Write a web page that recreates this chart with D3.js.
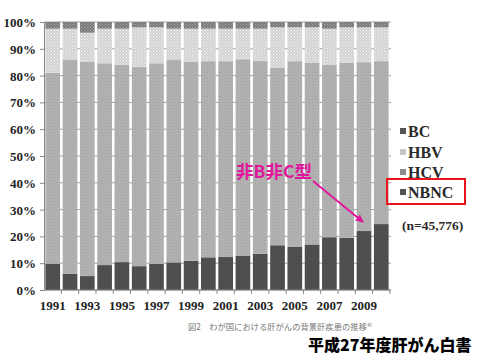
<!DOCTYPE html>
<html><head><meta charset="utf-8">
<script src="https://cdn.jsdelivr.net/npm/d3@7"></script>
<style>body{margin:0;background:#fff}svg{display:block}</style>
</head><body>
<svg id="c" width="480" height="360"></svg>
<script>
const years = [1991,1992,1993,1994,1995,1996,1997,1998,1999,2000,2001,2002,2003,2004,2005,2006,2007,2008,2009,2010];
const nbnc = [9.8,6.0,5.2,9.3,10.4,8.9,9.7,10.3,10.9,12.2,12.3,12.7,13.5,16.7,16.2,17.0,19.7,19.5,22.0,24.6];
const hcv  = [71.2,79.8,79.9,75.3,73.6,74.4,74.9,75.5,74.2,73.2,73.1,73.4,72.1,66.3,69.2,67.8,64.3,65.3,63.0,60.8];
const hbv  = [16.5,11.7,10.9,12.9,13.5,14.7,13.4,11.7,12.4,12.1,12.1,11.4,11.9,15.0,12.6,13.2,13.5,13.2,13.0,12.6];
const bc   = [2.5,2.5,4.0,2.5,2.5,2.0,2.0,2.5,2.5,2.5,2.5,2.5,2.5,2.0,2.0,2.0,2.5,2.0,2.0,2.0];
const seriesNames = ["NBNC","HCV","HBV","BC"];
const legendOrder = ["BC","HBV","HCV","NBNC"];
const yTicks = [0,10,20,30,40,50,60,70,80,90,100];
const xLabelYears = [1991,1993,1995,1997,1999,2001,2003,2005,2007,2009];

const svg = d3.select("#c");
const defs = svg.append("defs");
function pat(id, bg, dot, size){
  const p = defs.append("pattern").attr("id",id).attr("patternUnits","userSpaceOnUse").attr("width",size).attr("height",size);
  p.append("rect").attr("width",size).attr("height",size).attr("fill",bg);
  p.append("rect").attr("x",0).attr("y",0).attr("width",1).attr("height",1).attr("fill",dot);
  p.append("rect").attr("x",size/2).attr("y",size/2).attr("width",1).attr("height",1).attr("fill",dot);
}
pat("pNBNC","#4b4b4b","#5a5a5a",3);
pat("pHCV","#b3b3b3","#a2a2a2",3);
pat("pHBV","#d2d2d2","#f4f4f4",3);
pat("pBC","#7a7a7a","#a8a8a8",3);
const fills = {NBNC:"url(#pNBNC)",HCV:"url(#pHCV)",HBV:"url(#pHBV)",BC:"url(#pBC)"};

const table = years.map((yr,i)=>({year:yr,NBNC:nbnc[i],HCV:hcv[i],HBV:hbv[i],BC:bc[i]}));
const stack = d3.stack().keys(seriesNames).offset(d3.stackOffsetExpand)(table);

const x = d3.scaleBand().domain(years).range([44,390]).paddingInner(0.15).paddingOuter(0.08);
const y = d3.scaleLinear().domain([0,1]).range([290,22]);

// gridlines
svg.append("g").selectAll("line").data(yTicks).join("line")
  .attr("x1",44).attr("x2",391)
  .attr("y1",d=>y(d/100)).attr("y2",d=>y(d/100))
  .attr("stroke","#a0a0a0").attr("stroke-width",1);

// bars
svg.append("g").selectAll("g").data(stack).join("g")
  .attr("fill",d=>fills[d.key])
  .selectAll("rect").data(d=>d).join("rect")
  .attr("x",d=>x(d.data.year)).attr("width",x.bandwidth())
  .attr("y",d=>y(d[1])).attr("height",d=>y(d[0])-y(d[1]));

// y axis
const yAxis = d3.axisLeft(y).tickValues(yTicks.map(t=>t/100)).tickFormat(d=>Math.round(d*100)+"%").tickSize(4);
const gy = svg.append("g").attr("transform","translate(44,0)").call(yAxis);
gy.select(".domain").attr("stroke","#888");
gy.selectAll(".tick line").attr("stroke","#888");
gy.selectAll("text").attr("x",-8).attr("dy","0.35em")
  .style("font-family","Liberation Serif").style("font-weight","bold").style("font-size","13px").attr("fill","#222");

// x axis
svg.append("line").attr("x1",44).attr("x2",391).attr("y1",290).attr("y2",290).attr("stroke","#888");
svg.append("g").selectAll("line").data(years).join("line")
  .attr("x1",d=>x(d)+x.bandwidth()+x.step()*0.075).attr("x2",d=>x(d)+x.bandwidth()+x.step()*0.075)
  .attr("y1",290).attr("y2",294).attr("stroke","#888");
svg.append("g").selectAll("text").data(xLabelYears).join("text")
  .attr("x",d=>x(d)+x.bandwidth()/2).attr("y",310).attr("text-anchor","middle")
  .style("font-family","Liberation Serif").style("font-weight","bold").style("font-size","13px").attr("fill","#222")
  .text(d=>d);

// legend
const legY = {BC:131,HBV:152,HCV:172,NBNC:192};
const lg = svg.append("g");
legendOrder.forEach(k=>{
  lg.append("rect").attr("x",400).attr("y",legY[k]-3).attr("width",6).attr("height",6).attr("fill",k==="HBV"?"#c8c8c8":(k==="HCV"?"#8a8a8a":"#555"));
  lg.append("text").attr("x",408).attr("y",legY[k]).attr("dy","0.35em")
    .style("font-family","Liberation Serif").style("font-weight","bold").style("font-size","16px").attr("fill","#2a2a2a").text(k);
});
svg.append("rect").attr("x",387).attr("y",179).attr("width",78).attr("height",25)
  .attr("fill","none").attr("stroke","#e8161b").attr("stroke-width",2);
svg.append("text").attr("x",402).attr("y",225).attr("dy","0.35em")
  .style("font-family","Liberation Serif").style("font-weight","bold").style("font-size","13.5px").attr("fill","#2a2a2a").text("(n=45,776)");

// annotation
const mag = "#e0169c";
svg.append("text").attr("x",236).attr("y",172).attr("dy","0.35em")
  .style("font-family","Noto Sans CJK JP").style("font-weight","bold").style("font-size","17.5px").attr("fill",mag).text("非B非C型");
defs.append("marker").attr("id","ah").attr("viewBox","0 0 10 10").attr("refX",9).attr("refY",5)
  .attr("markerWidth",4).attr("markerHeight",4).attr("orient","auto")
  .append("path").attr("d","M0,0L10,5L0,10z").attr("fill",mag);
svg.append("line").attr("x1",313).attr("y1",181).attr("x2",363).attr("y2",222)
  .attr("stroke",mag).attr("stroke-width",2).attr("marker-end","url(#ah)");

// captions
svg.append("text").attr("x",188).attr("y",327).attr("dy","0.35em")
  .style("font-family","Noto Sans CJK JP").style("font-size","8.3px").attr("fill","#777")
  .text("図2　わが国における肝がんの背景肝疾患の推移⁴⁾");
svg.append("text").attr("x",308).attr("y",345).attr("dy","0.35em")
  .style("font-family","Noto Sans CJK JP").style("font-weight","900").style("font-size","16px").attr("fill","#000")
  .text("平成27年度肝がん白書");
</script>
</body></html>
